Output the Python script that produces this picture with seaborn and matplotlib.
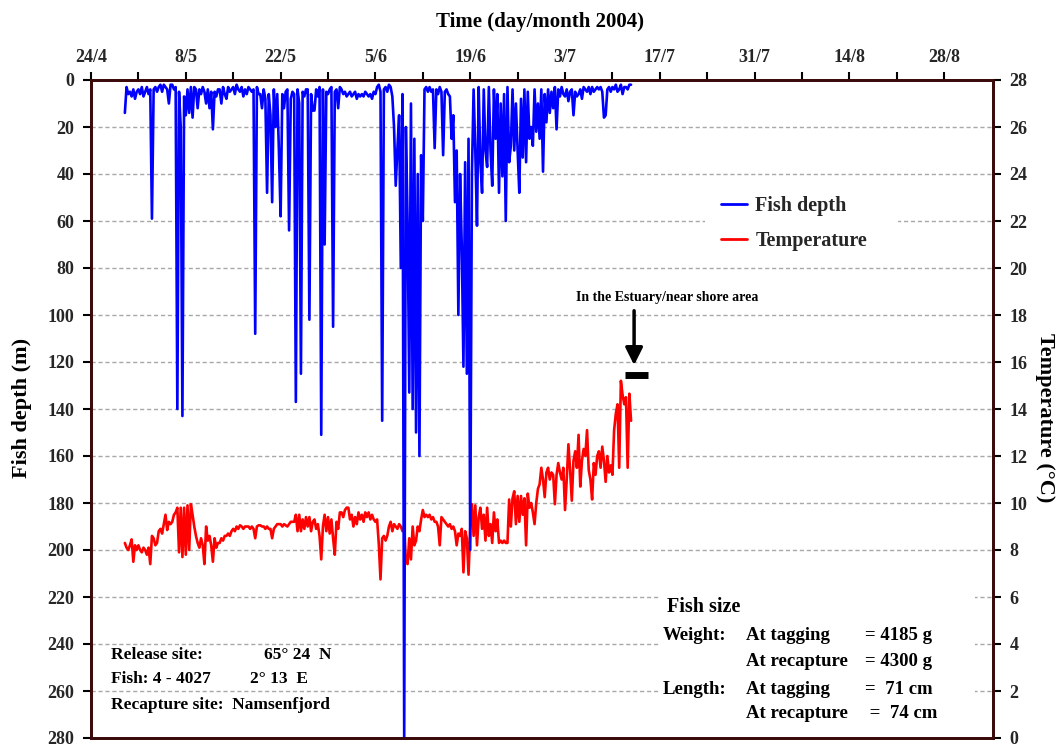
import numpy as np
import pandas as pd
import matplotlib
matplotlib.use("Agg")
import matplotlib.pyplot as plt
from matplotlib.lines import Line2D
from matplotlib.patches import Rectangle
import seaborn as sns

# ---------------- data ----------------
# samples every 6 h, starting 29 April 2004 (day 5 after 24 April)
first_day = 5.0
sample_step = 0.25

fish_depth = [
    14, 3, 6, 5,   7, 4, 8, 5,   4, 6, 3, 7,   5, 3, 6, 4,          # days 5-8
    59, 4, 3, 5,   3, 2, 5, 2,   3, 4, 10, 2,  2, 4, 3, 140,        # 9-12
    5, 20, 143, 7, 15, 4, 14, 3, 16, 3, 4, 12, 4, 6, 3, 5,          # 13-16
    10, 4, 12, 5,  21, 5, 7, 4,  4, 10, 3, 6,  8, 3, 5, 4,          # 17-20
    3, 6, 2, 4,    5, 3, 7, 4,   6, 3, 4, 5,   4, 108, 3, 6,        # 21-24
    6, 12, 4, 8,   48, 6, 15, 52, 4, 20, 6, 30, 58, 6, 12, 5,       # 25-28
    4, 64, 8, 5,   6, 137, 4, 10, 125, 5, 7, 4, 4, 102, 6, 13,      # 29-32
    13, 4, 7, 3,   151, 4, 70, 5, 6, 4, 3, 105, 5, 4, 12, 3,        # 33-36
    4, 6, 5, 7,    6, 5, 7, 6,   5, 8, 6, 7,   6, 7, 5, 6,          # 37-40
    7, 6, 8, 5,    6, 3, 2, 5,   145, 4, 3, 5, 2, 3, 7, 20,         # 41-44
    45, 29, 15, 80, 6, 280, 20, 60, 133, 10, 140, 25, 150, 40, 160, 32,  # 45-48
    60, 4, 3, 5,   3, 5, 4, 29,  4, 6, 3, 5,   32, 5, 4, 6,         # 49-52
    7, 25, 15, 52, 30, 100, 40, 70, 122, 35, 125, 25, 200, 40, 4, 30,  # 53-56
    62, 3, 35, 48, 4, 30, 37, 3, 30, 45, 4, 25, 6, 48, 10, 41,      # 57-60
    6, 60, 3, 35,  28, 4, 30, 10, 30, 48, 8, 33, 4, 35, 5, 25,      # 61-64
    20, 28, 4, 22, 10, 25, 4, 39, 6, 18, 4, 14, 5, 12, 3, 21,       # 65-68
    4, 7, 3, 6,    7, 4, 9, 5,   4, 15, 5, 7,  6, 4, 8, 3,          # 69-72
    4, 5, 3, 6,    3, 5, 4, 3,   4, 3, 5, 16,  15, 4, 3, 5,         # 73-76
    3, 4, 2, 5,    4, 2, 6, 3,   3, 4, 2, 2,                        # 77-79
]

temperature = [
    8.3, 8.1, 8.0, 8.2,   8.45, 7.5, 8.2, 8.0,  8.2, 8.0, 7.9, 8.1,  8.0, 7.8, 8.1, 7.4,   # 5-8
    8.6, 8.5, 8.2, 8.3,   8.8, 8.9, 8.7, 9.1,   9.5, 8.85, 9.2, 9.1, 9.2, 9.5, 9.6, 9.8,  # 9-12
    7.9, 9.8, 7.7, 9.8,   7.8, 9.9, 8.0, 9.95,  9.5, 9.0, 8.6, 8.3,  8.1, 8.5, 8.2, 7.4,  # 13-16
    9.0, 8.4, 8.6, 8.2,   7.5, 8.5, 8.1, 8.3,   8.3, 8.5, 8.4, 8.6,  8.6, 8.7, 8.6, 8.8,  # 17-20
    8.9, 8.8, 9.0, 8.9,   9.05, 9.0, 8.9, 9.0,  9.0, 9.0, 8.9, 9.0,  8.9, 8.5, 9.0, 9.05, # 21-24
    9.05, 9.0, 9.0, 8.9,  9.0, 8.9, 8.9, 8.5,   8.9, 9.0, 9.1, 9.1,  9.1, 9.0, 9.1, 9.05, # 25-28
    9.0, 9.1, 9.2, 9.2,   9.2, 9.5, 8.8, 9.5,   8.8, 9.3, 8.9, 9.4,  9.0, 9.4, 8.8, 9.2,  # 29-32
    9.3, 8.9, 9.1, 8.6,   7.6, 9.0, 9.5, 8.8,   9.4, 8.7, 9.3, 8.5,  7.8, 9.2, 8.9, 9.6,  # 33-36
    9.6, 9.4, 9.7, 9.8,   9.8, 9.3, 9.5, 9.0,   9.4, 9.1, 9.6, 9.3,  9.5, 9.2, 9.6, 9.4,  # 37-40
    9.6, 9.3, 9.5, 9.3,   9.2, 9.3, 8.25, 6.75, 8.5, 8.6, 8.4, 8.6,  9.0, 9.2, 8.8, 9.1,  # 41-44
    9.0, 8.9, 9.1, 9.0,   8.8, 9.0, 7.5, 7.4,   8.5, 7.6, 9.0, 8.2,  8.4, 9.0, 8.8, 9.3,  # 45-48
    9.7, 9.4, 9.5, 9.4,   9.5, 9.3, 9.4, 9.2,   9.2, 9.0, 8.2, 9.4,  9.3, 9.2, 9.1, 9.0,  # 49-52
    9.1, 8.9, 9.0, 8.8,   8.2, 8.7, 8.6, 8.9,   7.05, 8.8, 8.5, 6.95, 8.9, 9.95, 8.6, 9.9, # 53-56
    8.2, 9.4, 9.8, 8.9,   9.5, 8.4, 9.8, 8.6,   9.1, 8.3, 9.6, 8.8,  9.3, 8.3, 8.4, 8.3,  # 57-60
    8.4, 8.3, 8.3, 10.15, 9.0, 10.2, 10.5, 9.1, 10.3, 9.2, 10.3, 9.5, 10.2, 8.2, 10.4, 9.8, # 61-64
    10.0, 9.6, 9.1, 10.0, 10.6, 10.8, 11.5, 11.0, 10.25, 11.3, 11.5, 11.0, 11.3, 11.2, 9.95, 11.2,  # 65-68
    11.7, 11.3, 11.0, 11.5, 9.7, 11.0, 12.5, 11.4, 10.1, 11.8, 12.2, 11.5, 12.9, 10.7, 11.8, 12.3, # 69-72
    12.0, 13.1, 11.4, 11.0, 10.15, 11.7, 11.2, 12.0, 12.2, 11.5, 12.4, 11.8, 10.9, 12.0, 11.3, 11.6, # 73-76
    11.2, 13.1, 13.8, 14.2, 11.5, 15.2, 14.6, 14.2, 14.5, 11.5, 14.65, 13.5,          # 77-79
]

date_ticks = [0, 14, 28, 42, 56, 70, 84, 98, 112, 126]   # days after 24/4
date_labels = ["24/4", "8/5", "22/5", "5/6", "19/6", "3/7", "17/7", "31/7", "14/8", "28/8"]
depth_ticks = list(range(0, 281, 20))
temp_ticks = list(range(0, 29, 2))

# estuary marker (days after 24/4, temperature scale)
estuary_day = 80.2
estuary_span = (78.9, 82.3)
estuary_level = 15.45

n = len(fish_depth)
days = first_day + sample_step * np.arange(n)
df = pd.DataFrame({"day": days, "depth": fish_depth, "temp": temperature})

# ---------------- style ----------------
sns.set_style("white")
plt.rcParams["font.family"] = ["Liberation Serif", "DejaVu Serif"]
plt.rcParams["font.weight"] = "bold"

W, H = 1060, 749
fig = plt.figure(figsize=(W / 100, H / 100), dpi=100)
L, R, T, B = 91, 993, 80, 738
ax = fig.add_axes([L / W, 1 - B / H, (R - L) / W, (B - T) / H])   # temperature (right)
ax2 = ax.twinx()                                                    # depth (left)

spine_col = "#3b0a0a"

sns.lineplot(data=df, x="day", y="temp", ax=ax, color="#ff0000", lw=1.9,
             estimator=None, legend=False)
sns.lineplot(data=df, x="day", y="depth", ax=ax2, color="#0000ff", lw=1.9,
             estimator=None, legend=False)

ax.set_xlim(0, 133.2)
ax.set_ylim(0, 28)
ax2.set_ylim(280, 0)

ax.yaxis.tick_right()
ax.yaxis.set_label_position("right")
ax2.yaxis.tick_left()
ax2.yaxis.set_label_position("left")

ax.set_yticks(temp_ticks)
ax.set_yticklabels([str(v) for v in temp_ticks])
ax2.set_yticks(depth_ticks)
ax2.set_yticklabels([str(v) for v in depth_ticks])

ax.set_xticks(date_ticks)
ax.set_xticklabels(date_labels)
ax.set_xticks([d + 7 for d in date_ticks[:-1]], minor=True)
ax.xaxis.tick_top()
ax.tick_params(axis="x", which="both", top=True, bottom=False, labeltop=True,
               labelbottom=False, direction="out", length=6, width=1.5,
               color="black", labelsize=13, pad=4)
ax.tick_params(axis="y", direction="out", length=6, width=1.5, color="black",
               labelsize=13, pad=6, left=False, right=True)
ax2.tick_params(axis="y", direction="out", length=6, width=1.5, color="black",
                labelsize=13, pad=6, left=True, right=False)
for lab in ax.get_xticklabels() + ax.get_yticklabels() + ax2.get_yticklabels():
    lab.set_fontweight("bold")

ax.set_xlabel("")
ax.set_ylabel("")
ax2.set_ylabel("")

ax.yaxis.grid(True, linestyle=(0, (3, 2)), color="#a8a8a8", lw=1.0)
ax.xaxis.grid(False)
ax.set_axisbelow(True)

for a in (ax, ax2):
    for s in a.spines.values():
        s.set_color(spine_col)
        s.set_linewidth(2)

def fx(px):
    return px / W

def fy(py):
    return 1 - py / H

bold = dict(fontweight="bold", color="black")

# titles / axis labels
fig.text(fx(540), fy(22), "Time (day/month 2004)", ha="center", va="center", fontsize=15, **bold)
fig.text(fx(22), fy(408), "Fish depth (m)", ha="center", va="center", rotation=90, fontsize=16, **bold)
fig.text(fx(1045), fy(418), "Temperature (°C)", ha="center", va="center", rotation=270, fontsize=16, **bold)

# white boxes hiding the grid
ax2.add_patch(Rectangle((fx(705), fy(255)), (898 - 705) / W, (255 - 190) / H,
                        transform=fig.transFigure, facecolor="white", edgecolor="none", zorder=5))
ax2.add_patch(Rectangle((fx(660), fy(731)), (975 - 660) / W, (731 - 590) / H,
                        transform=fig.transFigure, facecolor="white", edgecolor="none", zorder=5))

# legend
handles = [Line2D([], [], color="#0000ff", lw=2), Line2D([], [], color="#ff0000", lw=2)]
leg = ax2.legend(handles, ["Fish depth", "Temperature"], loc="upper left",
                 bbox_to_anchor=((703 - L) / (R - L), 1 - (178 - T) / (B - T)),
                 frameon=False, handlelength=1.3, handletextpad=0.4,
                 labelspacing=0.75, prop=dict(family="Liberation Serif", weight="bold", size=14.5))
leg.set_zorder(6)

# estuary annotation
ax.annotate("", xy=(estuary_day, estuary_level + 0.3), xytext=(estuary_day, 18.3),
            arrowprops=dict(arrowstyle="-|>", mutation_scale=26, lw=2.5, color="black"), zorder=6)
ax.plot(list(estuary_span), [estuary_level, estuary_level], color="black", lw=5,
        solid_capstyle="butt", zorder=6)
fig.text(fx(667), fy(297), "In the Estuary/near shore area", ha="center", va="center",
         fontsize=10, **bold)

# fish size block
fig.text(fx(667), fy(607), "Fish size", ha="left", va="center", fontsize=14.5, **bold)
rows = [(635, "Weight:", "At tagging", "= 4185 g"),
        (661, "", "At recapture", "= 4300 g"),
        (689, "Length:", "At tagging", "=  71 cm"),
        (713, "", "At recapture", " =  74 cm")]
for yy, a, b, c in rows:
    if a:
        fig.text(fx(663), fy(yy), a, ha="left", va="center", fontsize=13.5, **bold)
    fig.text(fx(746), fy(yy), b, ha="left", va="center", fontsize=13.5, **bold)
    fig.text(fx(865), fy(yy), c, ha="left", va="center", fontsize=13.5, **bold)

# release block
fig.text(fx(111), fy(655), "Release site:", ha="left", va="center", fontsize=12.5, **bold)
fig.text(fx(264), fy(655), "65° 24  N", ha="left", va="center", fontsize=12.5, **bold)
fig.text(fx(111), fy(679), "Fish: 4 - 4027", ha="left", va="center", fontsize=12.5, **bold)
fig.text(fx(250), fy(679), "2° 13  E", ha="left", va="center", fontsize=12.5, **bold)
fig.text(fx(111), fy(705), "Recapture site:  Namsenfjord", ha="left", va="center", fontsize=12.5, **bold)

fig.savefig("out.png", dpi=100)
